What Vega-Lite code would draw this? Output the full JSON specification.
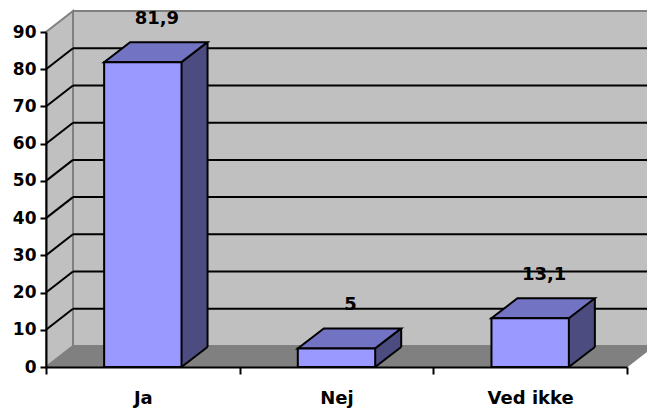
{
  "$schema": "https://vega.github.io/schema/vega-lite/v6.json",
  "width": 581,
  "height": 335,
  "autosize": "none",
  "padding": {"left": 46, "top": 32, "right": 20, "bottom": 45},
  "background": "white",
  "config": {
    "view": {"stroke": null},
    "locale": {"number": {"decimal": ",", "thousands": ".", "grouping": [3], "currency": ["", " kr."]}},
    "font": "DejaVu Sans"
  },
  "datasets": {
    "answers": [
      {"svar": "Ja", "pct": 81.9},
      {"svar": "Nej", "pct": 5},
      {"svar": "Ved ikke", "pct": 13.1}
    ],
    "gridlines": [
      {"level": 10}, {"level": 20}, {"level": 30}, {"level": 40},
      {"level": 50}, {"level": 60}, {"level": 70}, {"level": 80}
    ]
  },
  "layer": [
    {
      "data": {"values": [{}]},
      "layer": [
        {
          "mark": {"type": "rect", "fill": "#C0C0C0", "stroke": "#808080", "strokeWidth": 2, "xOffset": 27, "x2Offset": 27, "yOffset": -21, "y2Offset": -21},
          "encoding": {
            "x": {"datum": 0, "type": "quantitative", "scale": {"domain": [0, 1]}, "axis": null},
            "x2": {"datum": 1},
            "y": {"datum": 0, "type": "quantitative", "scale": {"domain": [0, 90]}, "axis": null},
            "y2": {"datum": 90}
          }
        },
        {
          "mark": {"type": "point", "shape": "M0 0 L27 -21 L608 -21 L581 0 Z", "size": 4, "filled": true, "fill": "#808080", "stroke": "#808080", "strokeWidth": 1, "opacity": 1},
          "encoding": {
            "x": {"datum": 0, "type": "quantitative", "axis": null},
            "y": {"datum": 0, "type": "quantitative", "axis": null}
          }
        },
        {
          "mark": {"type": "point", "shape": "M0 0 L27 -21 L27 -356 L0 -335 Z", "size": 4, "filled": true, "fill": "#C0C0C0", "stroke": "#808080", "strokeWidth": 2, "opacity": 1},
          "encoding": {
            "x": {"datum": 0, "type": "quantitative", "axis": null},
            "y": {"datum": 0, "type": "quantitative", "axis": null}
          }
        },
        {
          "data": {"name": "gridlines"},
          "mark": {"type": "rule", "stroke": "black", "strokeWidth": 2, "xOffset": 27, "x2Offset": 27, "yOffset": -21},
          "encoding": {
            "x": {"datum": 0, "type": "quantitative", "axis": null},
            "x2": {"datum": 1},
            "y": {"field": "level", "type": "quantitative", "axis": null}
          }
        },
        {
          "data": {"name": "gridlines"},
          "mark": {"type": "point", "shape": "M0 0 L27 -21", "size": 4, "filled": false, "stroke": "black", "strokeWidth": 2, "opacity": 1},
          "encoding": {
            "x": {"datum": 0, "type": "quantitative", "axis": null},
            "y": {"field": "level", "type": "quantitative", "axis": null}
          }
        }
      ]
    },
    {
      "data": {"name": "answers"},
      "encoding": {
        "x": {
          "field": "svar",
          "type": "nominal",
          "sort": null,
          "scale": {"paddingInner": 0, "paddingOuter": 0},
          "axis": {
            "title": null,
            "labelAngle": 0,
            "tickBand": "extent",
            "tickSize": 7,
            "tickWidth": 2,
            "tickColor": "black",
            "domainColor": "black",
            "domainWidth": 2,
            "labelFont": "DejaVu Sans",
            "labelFontWeight": "bold",
            "labelFontSize": 18,
            "labelColor": "black",
            "labelPadding": 15,
            "zindex": 1
          }
        },
        "y": {
          "field": "pct",
          "type": "quantitative",
          "scale": {"domain": [0, 90]},
          "axis": {
            "title": null,
            "values": [0, 10, 20, 30, 40, 50, 60, 70, 80, 90],
            "labelOverlap": false,
            "grid": false,
            "tickSize": 6,
            "tickWidth": 2,
            "tickColor": "black",
            "domainColor": "black",
            "domainWidth": 2,
            "labelFont": "DejaVu Sans",
            "labelFontWeight": "bold",
            "labelFontSize": 17,
            "labelColor": "black",
            "labelPadding": 4,
            "zindex": 1
          }
        }
      },
      "layer": [
        {
          "mark": {"type": "bar", "width": 26, "xOffset": 51.7, "yOffset": -20, "y2Offset": -20, "fill": "#4C4C80", "strokeWidth": 0}
        },
        {
          "mark": {"type": "point", "shape": "M38.7 -20 L64.7 -20 L38.7 0 Z", "size": 4, "filled": true, "fill": "#4C4C80", "strokeWidth": 0, "opacity": 1},
          "encoding": {"y": {"datum": 0, "type": "quantitative"}}
        },
        {
          "mark": {"type": "rule", "xOffset": 64.7, "yOffset": -20, "y2Offset": -20, "stroke": "black", "strokeWidth": 2},
          "encoding": {"y2": {"datum": 0}}
        },
        {
          "mark": {"type": "point", "shape": "M38.7 0 L64.7 -20", "size": 4, "filled": false, "stroke": "black", "strokeWidth": 2, "opacity": 1},
          "encoding": {"y": {"datum": 0, "type": "quantitative"}}
        },
        {
          "mark": {"type": "point", "shape": "M-38.7 0 L38.7 0 L64.7 -20 L-12.7 -20 Z", "size": 4, "filled": true, "fill": "#7373C4", "stroke": "black", "strokeWidth": 2, "strokeJoin": "miter", "opacity": 1}
        },
        {
          "mark": {"type": "bar", "width": 77.4, "fill": "#9999FF", "stroke": "black", "strokeWidth": 2}
        },
        {
          "mark": {"type": "text", "dx": 14, "dy": -38, "baseline": "alphabetic", "align": "center", "font": "DejaVu Sans", "fontWeight": "bold", "fontSize": 18, "fill": "black"},
          "encoding": {"text": {"field": "pct", "type": "quantitative", "format": ".1~f"}}
        }
      ]
    }
  ],
  "resolve": {"scale": {"x": "independent"}, "axis": {"x": "independent", "y": "independent"}}
}
